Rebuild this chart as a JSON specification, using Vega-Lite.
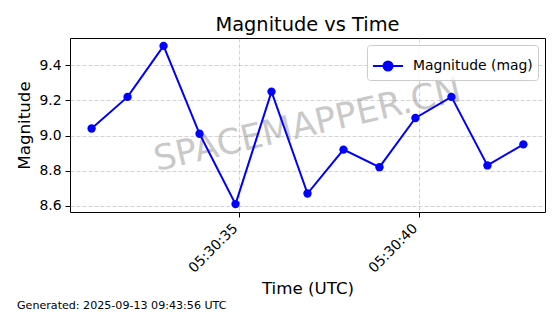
{
  "$schema": "https://vega.github.io/schema/vega-lite/v6.json",
  "width": 475,
  "height": 174,
  "autosize": {"type": "none"},
  "padding": {"left": 70, "top": 38, "right": 15, "bottom": 102},
  "background": "white",
  "title": {"text": "Magnitude vs Time", "font": "DejaVu Sans", "fontSize": 19.4, "fontWeight": "normal", "color": "black", "anchor": "middle", "offset": 3},
  "config": {
    "view": {"stroke": "black", "strokeWidth": 1},
    "font": "DejaVu Sans",
    "axis": {
      "labelFont": "DejaVu Sans", "labelFontSize": 13.9, "labelColor": "black",
      "titleFont": "DejaVu Sans", "titleFontSize": 16.7, "titleFontWeight": "normal", "titleColor": "black",
      "tickColor": "black", "tickSize": 5, "tickWidth": 1, "domain": false,
      "gridColor": "#b0b0b0", "gridOpacity": 0.7, "gridDash": [4, 2], "gridWidth": 0.8,
      "labelPadding": 4
    }
  },
  "data": {"values": [
    {"time": "2025-09-13T05:30:30.900Z", "mag": 9.04, "series": "Magnitude (mag)"},
    {"time": "2025-09-13T05:30:31.900Z", "mag": 9.22, "series": "Magnitude (mag)"},
    {"time": "2025-09-13T05:30:32.900Z", "mag": 9.51, "series": "Magnitude (mag)"},
    {"time": "2025-09-13T05:30:33.900Z", "mag": 9.01, "series": "Magnitude (mag)"},
    {"time": "2025-09-13T05:30:34.900Z", "mag": 8.61, "series": "Magnitude (mag)"},
    {"time": "2025-09-13T05:30:35.900Z", "mag": 9.25, "series": "Magnitude (mag)"},
    {"time": "2025-09-13T05:30:36.900Z", "mag": 8.67, "series": "Magnitude (mag)"},
    {"time": "2025-09-13T05:30:37.900Z", "mag": 8.92, "series": "Magnitude (mag)"},
    {"time": "2025-09-13T05:30:38.900Z", "mag": 8.82, "series": "Magnitude (mag)"},
    {"time": "2025-09-13T05:30:39.900Z", "mag": 9.10, "series": "Magnitude (mag)"},
    {"time": "2025-09-13T05:30:40.900Z", "mag": 9.22, "series": "Magnitude (mag)"},
    {"time": "2025-09-13T05:30:41.900Z", "mag": 8.83, "series": "Magnitude (mag)"},
    {"time": "2025-09-13T05:30:42.900Z", "mag": 8.95, "series": "Magnitude (mag)"}
  ]},
  "encoding": {
    "x": {
      "field": "time", "type": "temporal",
      "scale": {"type": "utc", "domain": [
        {"year": 2025, "month": 9, "date": 13, "hours": 5, "minutes": 30, "seconds": 30, "milliseconds": 300, "utc": true},
        {"year": 2025, "month": 9, "date": 13, "hours": 5, "minutes": 30, "seconds": 43, "milliseconds": 500, "utc": true}
      ]},
      "axis": {
        "title": "Time (UTC)",
        "values": [
          {"year": 2025, "month": 9, "date": 13, "hours": 5, "minutes": 30, "seconds": 35, "utc": true},
          {"year": 2025, "month": 9, "date": 13, "hours": 5, "minutes": 30, "seconds": 40, "utc": true}
        ],
        "format": "%H:%M:%S",
        "labelAngle": -45, "labelAlign": "right", "labelBaseline": "top", "labelOffset": -9,
        "titlePadding": 6
      }
    },
    "y": {
      "field": "mag", "type": "quantitative",
      "scale": {"domain": [8.565, 9.555], "zero": false, "nice": false},
      "axis": {"title": "Magnitude", "values": [8.6, 8.8, 9.0, 9.2, 9.4], "format": ".1f", "titlePadding": 5}
    }
  },
  "layer": [
    {
      "data": {"values": [{"wm": "SPACEMAPPER.CN"}]},
      "mark": {"type": "text", "x": {"expr": "width/2"}, "y": {"expr": "height/2"}, "angle": -13, "fontSize": 35, "font": "DejaVu Sans", "fill": "#808080", "opacity": 0.42, "align": "center", "baseline": "middle"},
      "encoding": {"x": null, "y": null, "text": {"field": "wm"}}
    },
    {
      "mark": {"type": "line", "color": "blue", "strokeWidth": 2}
    },
    {
      "mark": {"type": "point", "filled": true, "size": 70, "opacity": 1},
      "encoding": {
        "color": {
          "field": "series", "type": "nominal",
          "scale": {"range": ["blue"]},
          "legend": {
            "title": null, "orient": "top-right", "offset": 7, "padding": 5,
            "fillColor": "rgba(255,255,255,0.8)", "strokeColor": "#cccccc", "cornerRadius": 3,
            "labelFont": "DejaVu Sans", "labelFontSize": 13.9, "labelColor": "black", "labelOffset": 9,
            "symbolType": "M-1,0H1M0.3,0A0.3,0.3,0,1,1,-0.3,0A0.3,0.3,0,1,1,0.3,0Z",
            "symbolSize": 900, "symbolStrokeWidth": 2, "symbolStrokeColor": "blue", "symbolFillColor": "blue"
          }
        }
      }
    },
    {
      "data": {"values": [{"note": "Generated: 2025-09-13 09:43:56 UTC"}]},
      "mark": {"type": "text", "x": -53, "y": {"expr": "height+97"}, "fontSize": 11.1, "font": "DejaVu Sans", "fill": "black", "align": "left", "baseline": "alphabetic"},
      "encoding": {"x": null, "y": null, "text": {"field": "note"}}
    }
  ]
}
